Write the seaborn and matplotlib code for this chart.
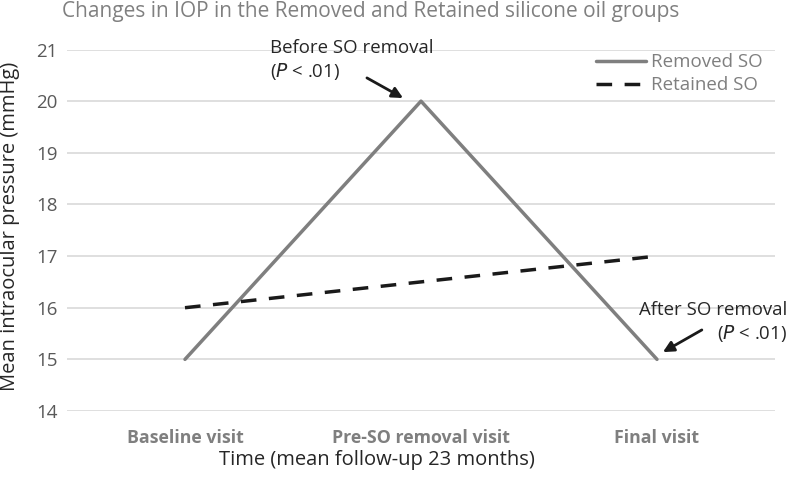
import matplotlib.pyplot as plt
import pandas as pd
import seaborn as sns

VISITS = ["Baseline visit", "Pre-SO removal visit", "Final visit"]
REMOVED_SO = [15, 20, 15]
RETAINED_SO = [16, 16.5, 17]

DATA = pd.DataFrame(
    {
        "pos": [0, 1, 2] * 2,
        "iop": REMOVED_SO + RETAINED_SO,
        "group": ["Removed SO"] * 3 + ["Retained SO"] * 3,
    }
)

sns.set_theme(style="white")
plt.rcParams["font.family"] = ["Open Sans", "DejaVu Sans"]

fig = plt.figure(figsize=(7.88, 4.82), dpi=100)
ax = fig.add_axes([0.085, 0.1473, 0.8985, 0.75])

sns.lineplot(
    data=DATA,
    x="pos",
    y="iop",
    hue="group",
    style="group",
    palette={"Removed SO": "#7f7f7f", "Retained SO": "#1a1a1a"},
    dashes={"Removed SO": "", "Retained SO": (4.5, 3.6)},
    linewidth=2.5,
    ax=ax,
)

ax.set_xlim(-0.5, 2.5)
ax.set_ylim(14, 21)
ax.set_yticks(range(14, 22))
ax.set_xticks([0, 1, 2])
ax.set_xticklabels(VISITS, fontweight="bold", color="#7f7f7f", fontsize=12.8)
ax.tick_params(axis="y", labelcolor="#595959", labelsize=13.5, length=0, pad=6.5)
ax.tick_params(axis="x", length=0, pad=13)
ax.yaxis.grid(True, color="#d9d9d9", linewidth=1.2)
for side in ax.spines.values():
    side.set_visible(False)

ax.set_xlabel("Time (mean follow-up 23 months)", fontsize=14.5)
ax.set_ylabel("Mean intraocular pressure (mmHg)", fontsize=14.5)
ax.xaxis.label.set_va("center")
ax.yaxis.label.set_va("center")
ax.xaxis.set_label_coords(0.438, -0.1355)
ax.yaxis.set_label_coords(-0.0805, 0.51)

fig.text(0.079, 0.976, "Changes in IOP in the Removed and Retained silicone oil groups",
         color="#808080", fontsize=15, va="center", ha="left")

# annotations
ax.text(0.36, 20.78, "Before SO removal\n($\\it{P}$ < .01)", fontsize=13.4,
        ha="left", va="center", linespacing=1.25)
ax.annotate("", xy=(0.924, 20.06), xytext=(0.771, 20.45),
            arrowprops=dict(arrowstyle="-|>", color="#1a1a1a", lw=2,
                            mutation_scale=16, shrinkA=0, shrinkB=0))
ax.text(2.551, 15.71, "After SO removal\n($\\it{P}$ < .01)", fontsize=13.4,
        ha="right", va="center", linespacing=1.25, multialignment="right",
        clip_on=False)
ax.annotate("", xy=(2.025, 15.14), xytext=(2.19, 15.57),
            arrowprops=dict(arrowstyle="-|>", color="#1a1a1a", lw=2,
                            mutation_scale=16, shrinkA=0, shrinkB=0))

leg = ax.legend(loc="upper right", bbox_to_anchor=(0.982, 0.99), frameon=False,
                fontsize=13.5, handlelength=2.67, handletextpad=0.27,
                labelspacing=0.28, borderpad=0, borderaxespad=0)
for t in leg.get_texts():
    t.set_color("#7f7f7f")

fig.savefig("out.png", dpi=100)
